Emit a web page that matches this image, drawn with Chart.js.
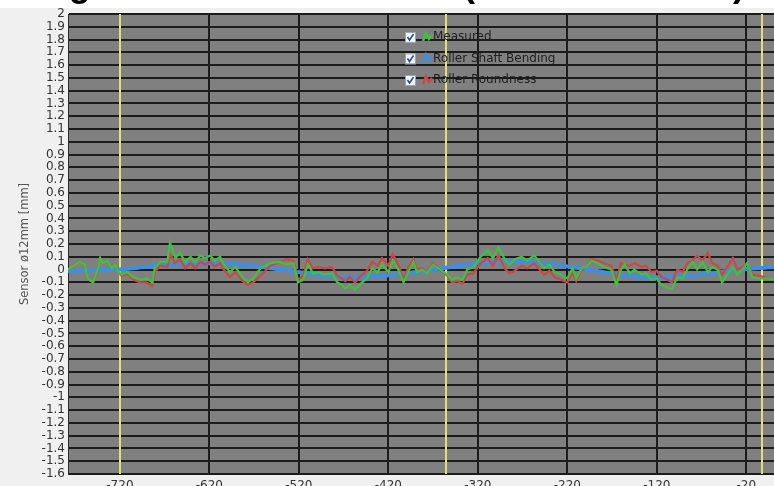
<!DOCTYPE html>
<html>
<head>
<meta charset="utf-8">
<script src="https://cdn.jsdelivr.net/npm/chart.js@4.4.0/dist/chart.umd.min.js"></script>
<style>
  html, body { margin: 0; padding: 0; background: #f0f0f0; overflow: hidden; }
</style>
</head>
<body>
<canvas id="bendingChart" width="774" height="486"></canvas>
<script>
// position along the roller (x) shared by measured + roundness traces
var sampleX = [
  -778,-774,-765,-759,-756,-750,-744,-742,-739,-734,
  -729,-725,-722,-718,-712,-705,-697,-690,-684,-681,
  -675,-667,-664,-658,-653,-647,-641,-636,-630,-625,
  -619,-614,-608,-605,-597,-591,-583,-577,-571,-563,
  -552,-541,-533,-526,-521,-515,-510,-504,-498,-491,
  -483,-477,-472,-468,-463,-457,-451,-444,-438,-432,
  -427,-420,-415,-409,-403,-398,-392,-388,-382,-377,
  -370,-362,-354,-349,-343,-337,-332,-325,-317,-309,
  -303,-297,-289,-284,-279,-271,-265,-257,-251,-246,
  -240,-234,-227,-220,-214,-210,-204,-199,-193,-186,
  -179,-171,-165,-160,-156,-150,-145,-137,-132,-126,
  -120,-115,-108,-103,-97,-91,-86,-80,-75,-69,
  -63,-58,-52,-47,-41,-35,-30,-24,-19,-13,
  -5,4,11
];
var measured = [
  0.0,0.02,0.06,0.04,-0.07,-0.1,0.02,0.09,0.05,0.07,
  0.01,0.04,-0.02,-0.04,-0.02,-0.06,-0.08,-0.07,-0.1,0.01,
  0.06,0.06,0.21,0.09,0.13,0.06,0.1,0.06,0.11,0.09,
  0.11,0.07,0.1,0.05,-0.02,0.02,-0.06,-0.1,-0.07,0.01,
  0.05,0.06,0.04,0.05,-0.1,-0.08,0.04,-0.03,-0.02,-0.04,
  -0.03,-0.1,-0.12,-0.15,-0.12,-0.16,-0.11,-0.07,0.01,-0.02,
  0.04,-0.02,0.07,0.0,-0.1,-0.02,0.06,-0.02,0.0,-0.03,
  0.04,0.0,-0.04,-0.08,-0.06,-0.08,0.0,0.02,0.1,0.15,
  0.09,0.17,0.07,0.04,0.08,0.1,0.07,0.11,0.06,0.01,
  0.04,-0.02,-0.04,-0.07,0.01,-0.07,0.01,0.02,0.07,0.05,
  0.02,0.0,-0.12,0.0,0.04,-0.03,0.0,-0.04,-0.03,-0.08,
  -0.07,-0.12,-0.14,-0.15,-0.06,-0.07,0.0,0.06,0.0,0.06,
  -0.02,0.02,0.0,-0.1,-0.04,0.02,-0.04,0.0,0.05,-0.06,
  -0.07,-0.07,-0.08
];
var roundness = [
  0.0,0.02,0.06,0.04,-0.07,-0.1,0.02,0.09,0.05,0.07,
  0.01,0.04,-0.02,-0.05,-0.03,-0.08,-0.1,-0.1,-0.13,-0.02,
  0.03,0.02,0.12,0.05,0.08,0.01,0.05,0.01,0.06,0.04,
  0.06,0.02,0.05,0.01,-0.06,-0.02,-0.09,-0.12,-0.1,-0.05,
  0.03,0.06,0.08,0.07,-0.08,-0.05,0.08,0.01,0.02,0.01,
  0.02,-0.05,-0.07,-0.09,-0.06,-0.1,-0.05,-0.01,0.06,0.03,
  0.09,0.03,0.12,0.04,-0.07,0.01,0.08,0.0,0.01,-0.02,
  0.05,0.0,-0.05,-0.1,-0.09,-0.11,-0.04,-0.03,0.05,0.09,
  0.03,0.11,0.0,-0.03,-0.01,0.03,0.01,0.05,0.0,-0.04,
  -0.01,-0.06,-0.08,-0.1,-0.02,-0.09,0.0,0.02,0.08,0.07,
  0.05,0.03,-0.08,0.05,0.03,0.03,0.05,0.02,0.03,-0.02,
  -0.01,-0.06,-0.08,-0.1,0.0,-0.02,0.05,0.07,0.11,0.07,
  0.13,0.05,0.03,-0.04,0.02,0.09,0.0,0.02,0.05,-0.04,
  -0.05,-0.07,-0.08
];
// smooth shaft bending curve
var bendingX = [-778,-760,-740,-720,-700,-680,-660,-640,-620,-600,-580,-560,-540,-520,-500,-480,-460,-440,-420,-400,-380,-360,-340,-320,-300,-280,-260,-240,-220,-200,-180,-160,-140,-120,-100,-80,-60,-40,-20,0,11];
var bending = [-0.01,-0.008,-0.004,0.0,0.015,0.03,0.04,0.05,0.05,0.045,0.035,0.02,0.0,-0.02,-0.04,-0.055,-0.06,-0.055,-0.045,-0.03,-0.01,0.01,0.03,0.05,0.06,0.065,0.06,0.045,0.025,0.005,-0.02,-0.04,-0.055,-0.06,-0.055,-0.045,-0.03,-0.01,0.005,0.015,0.02];

var xTicks = [-720,-620,-520,-420,-320,-220,-120,-20];
var yTicks = [2,1.9,1.8,1.7,1.6,1.5,1.4,1.3,1.2,1.1,1,0.9,0.8,0.7,0.6,0.5,0.4,0.3,0.2,0.1,0,
  -0.1,-0.2,-0.3,-0.4,-0.5,-0.6,-0.7,-0.8,-0.9,-1,-1.1,-1.2,-1.3,-1.4,-1.5,-1.6];
var markerX = [-720,-356,-2]; // yellow cursor lines
var seriesNames = ['Measured', 'Roller Shaft Bending', 'Roller Roundness'];
var seriesColors = ['#3fc23f', '#3d8fe3', '#c94848'];

function toPoints(xs, ys) {
  return xs.map(function(x, i) { return {x: x, y: ys[i]}; });
}

var backdrop = {
  id: 'backdrop',
  beforeDraw: function(chart) {
    var ctx = chart.ctx, a = chart.chartArea;
    ctx.save();
    ctx.fillStyle = '#f0f0f0';
    ctx.fillRect(0, 0, chart.width, chart.height);
    ctx.fillStyle = '#ffffff';
    ctx.fillRect(0, 0, chart.width, 8);
    // title, mostly above the visible window
    ctx.fillStyle = '#000';
    ctx.font = 'bold 36px "Liberation Sans", Arial, sans-serif';
    ctx.textAlign = 'right';
    ctx.textBaseline = 'alphabetic';
    ctx.fillText('Roller Shaft Bending Measurement Result (Sensor \u00f812mm)', 745, -4);
    ctx.fillStyle = '#808080';
    ctx.fillRect(a.left, a.top, a.right - a.left, a.bottom - a.top);
    ctx.restore();
  },
  beforeDatasetsDraw: function(chart) {
    var ctx = chart.ctx, a = chart.chartArea, xs = chart.scales.x;
    ctx.save();
    ctx.strokeStyle = '#e4df78';
    ctx.lineWidth = 2;
    markerX.forEach(function(v) {
      var px = Math.round(xs.getPixelForValue(v));
      ctx.beginPath();
      ctx.moveTo(px, a.top);
      ctx.lineTo(px, a.bottom);
      ctx.stroke();
    });
    ctx.restore();
  },
  afterDraw: function(chart) {
    // checkbox legend
    var ctx = chart.ctx;
    ctx.save();
    chart.data.datasets.forEach(function(ds, i) {
      var y = 37 + i * 21.5;
      ctx.fillStyle = '#f4f6fa';
      ctx.strokeStyle = '#9aa4b4';
      ctx.lineWidth = 1;
      ctx.fillRect(405, y - 5, 10, 10);
      ctx.strokeRect(405.5, y - 4.5, 10, 10);
      ctx.strokeStyle = '#2c4f9a';
      ctx.lineWidth = 1.6;
      ctx.beginPath();
      ctx.moveTo(407.5, y);
      ctx.lineTo(409.5, y + 3);
      ctx.lineTo(413.5, y - 3);
      ctx.stroke();
      ctx.strokeStyle = ds.borderColor;
      ctx.lineWidth = 2.5;
      ctx.beginPath();
      ctx.moveTo(423, y + 4);
      ctx.lineTo(426, y - 4);
      ctx.lineTo(429, y + 2);
      ctx.lineTo(432, y - 2);
      ctx.stroke();
      ctx.fillStyle = '#1e1e1e';
      ctx.font = '12px "DejaVu Sans", sans-serif';
      ctx.textAlign = 'left';
      ctx.textBaseline = 'middle';
      ctx.fillText(ds.label, 433, y);
    });
    ctx.restore();
  }
};

new Chart(document.getElementById('bendingChart'), {
  type: 'line',
  data: {
    datasets: [
      {
        label: seriesNames[0],
        data: toPoints(sampleX, measured),
        borderColor: seriesColors[0],
        borderWidth: 2.2,
        pointRadius: 0,
        tension: 0,
        order: 0
      },
      {
        label: seriesNames[1],
        data: toPoints(bendingX, bending),
        borderColor: seriesColors[1],
        borderWidth: 4,
        pointRadius: 0,
        tension: 0.3,
        order: 2
      },
      {
        label: seriesNames[2],
        data: toPoints(sampleX, roundness),
        borderColor: seriesColors[2],
        borderWidth: 2.2,
        pointRadius: 0,
        tension: 0,
        order: 1
      }
    ]
  },
  plugins: [backdrop],
  options: {
    responsive: false,
    animation: false,
    layout: { padding: { top: 14, left: 0, right: 0, bottom: 0 } },
    plugins: { legend: { display: false }, tooltip: { enabled: false } },
    scales: {
      x: {
        type: 'linear',
        min: -778,
        max: 11,
        afterBuildTicks: function(scale) {
          scale.ticks = xTicks.map(function(v) { return {value: v}; });
        },
        afterFit: function(scale) { scale.height = 12; },
        grid: { color: '#1c1c1c', lineWidth: 2, drawTicks: false },
        border: { display: false },
        ticks: {
          autoSkip: false,
          maxRotation: 0,
          padding: 4.5,
          color: '#333',
          font: { family: 'DejaVu Sans', size: 12 },
          callback: function(v) { return String(v); }
        }
      },
      y: {
        min: -1.6,
        max: 2,
        afterBuildTicks: function(scale) {
          scale.ticks = yTicks.map(function(v) { return {value: v}; });
        },
        afterFit: function(scale) { scale.width = 68; },
        grid: { color: '#1c1c1c', lineWidth: 2, drawTicks: false },
        border: { color: '#2a2a2a', width: 1 },
        title: {
          display: true,
          text: 'Sensor \u00f812mm [mm]',
          color: '#555',
          font: { family: 'DejaVu Sans', size: 11.5 },
          padding: { top: 18, bottom: 0 }
        },
        ticks: {
          autoSkip: false,
          padding: 3,
          color: '#333',
          font: { family: 'DejaVu Sans', size: 12, lineHeight: 1 },
          callback: function(v) { return String(Math.round(v * 10) / 10); }
        }
      }
    }
  }
});
</script>
</body>
</html>
